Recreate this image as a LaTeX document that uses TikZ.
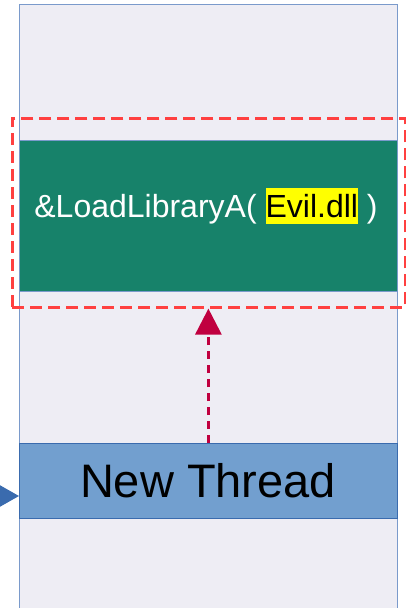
\documentclass[tikz,border=0pt]{standalone}
\usepackage{fontspec}
\setmainfont{Liberation Sans}
\usetikzlibrary{arrows.meta}
\definecolor{bgfill}{HTML}{EEEDF4}
\definecolor{bgline}{HTML}{7A9ACB}
\definecolor{greenbox}{HTML}{17826A}
\definecolor{framered}{HTML}{FF4040}
\definecolor{crimson}{HTML}{C0003F}
\definecolor{bluefill}{HTML}{729FCF}
\definecolor{blueline}{HTML}{3A6BAE}
\definecolor{hl}{HTML}{FFFF00}
\tikzset{
  panel/.style={draw=bgline, line width=0.8pt, fill=bgfill, anchor=north west, inner sep=0pt},
  codebox/.style={fill=greenbox, draw=bgline, line width=0.6pt, anchor=north west, inner sep=0pt},
  threadbox/.style={fill=bluefill, draw=blueline, line width=0.8pt, anchor=north west, inner sep=0pt},
  redframe/.style={draw=framered, line width=2.6pt, dash pattern=on 12pt off 6pt, anchor=north west, inner sep=0pt},
  ptr/.style={draw=crimson, line width=3pt, dash pattern=on 8pt off 6pt, -{Triangle[length=26pt,width=26pt]}},
  inarrow/.style={draw=blueline, line width=2pt, -{Triangle[length=19pt,width=21pt]}},
}
\begin{document}
\begin{tikzpicture}[x=1pt,y=-1pt]
\useasboundingbox (0,0) rectangle (405,608);
\node[panel, minimum width=378pt, minimum height=640pt] (bg) at (19,4) {};
\node[codebox, minimum width=378pt, minimum height=151pt] (code) at (19,140) {};
\node[anchor=base, inner sep=0pt, font=\fontsize{32}{36}\selectfont] (codetext) at (206,217)
  {\textcolor{white}{\&LoadLibraryA(\ }{\setlength{\fboxsep}{0pt}\colorbox{hl}{\rule[-7pt]{0pt}{36pt}\textcolor{black}{Evil.dll}}}\textcolor{white}{\ )}};
\node[redframe, minimum width=393pt, minimum height=189pt] (frame) at (11,117) {};
\node[threadbox, minimum width=378pt, minimum height=75pt] (nt) at (19,443) {};
\node[anchor=base, inner sep=0pt, font=\fontsize{47}{56}\selectfont] (nttext) at (208,497) {New Thread};
\draw[ptr] (nt.north) -- (nt.north |- frame.south);
\coordinate (src) at (-40,496);
\draw[inarrow] (src) -- (nt.west |- src);
\end{tikzpicture}
\end{document}
